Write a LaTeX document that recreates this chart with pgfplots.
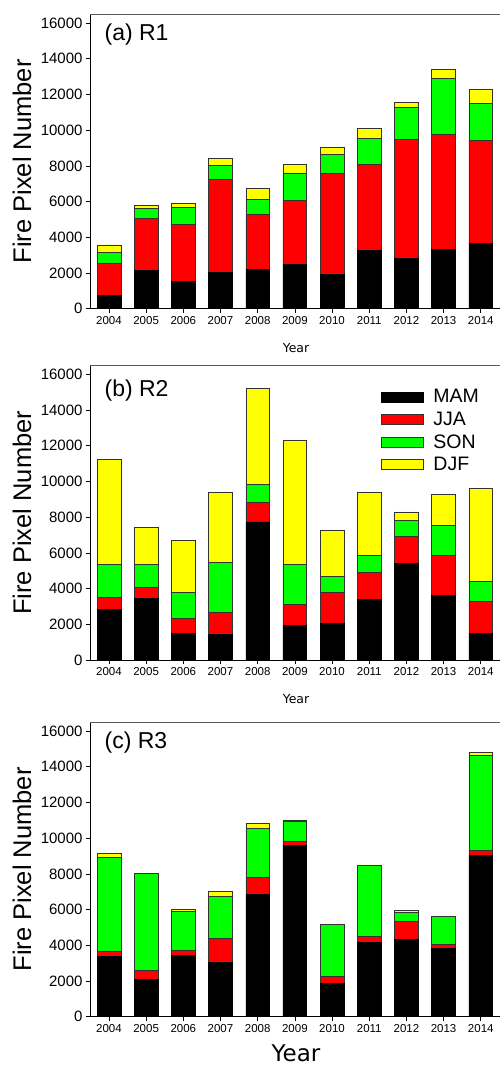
\documentclass[border=0pt]{standalone}
\usepackage{fontspec}
\setmainfont{Liberation Sans}
\newfontfamily\dejavu{DejaVu Sans}
\usepackage{pgfplots}
\usepackage{pgfplotstable}
\pgfplotsset{compat=1.18}

\pgfplotstableread{
year MAM JJA SON DJF
2004 730 1810 600 430
2005 2166 2894 560 150
2006 1550 3192 953 186
2007 2016 5228 784 393
2008 2203 3081 821 654
2009 2502 3566 1531 467
2010 1904 5658 1101 374
2011 3286 4798 1476 541
2012 2819 6684 1774 280
2013 3342 6441 3137 486
2014 3641 5788 2072 784
}\Ra

\pgfplotstableread{
year MAM JJA SON DJF
2004 2857 672 1848 5881
2005 3454 616 1307 2035
2006 1494 821 1456 2932
2007 1438 1213 2801 3921
2008 7730 1101 1008 5396
2009 1923 1195 2259 6946
2010 2072 1699 897 2614
2011 3379 1513 952 3529
2012 5396 1512 915 467
2013 3603 2241 1680 1774
2014 1494 1792 1139 5172
}\Rb

\pgfplotstableread{
year MAM JJA SON DJF
2004 3398 280 5247 224
2005 2091 523 5414 0
2006 3454 243 2203 112
2007 3025 1344 2352 299
2008 6871 934 2725 318
2009 9615 187 1139 75
2010 1848 392 2950 0
2011 4163 318 3995 30
2012 4331 990 523 131
2013 3809 224 1568 0
2014 9018 317 5303 168
}\Rc

\definecolor{barR}{RGB}{255,0,0}
\definecolor{barG}{RGB}{0,255,0}
\definecolor{barY}{RGB}{255,255,0}

\pgfplotsset{
  panel/.style={
    scale only axis, width=412pt, height=294.6pt,
    xmin=2003.49, xmax=2014.57, ymin=0, ymax=16500,
    ybar stacked, bar width=0.64,
    axis x line*=bottom, axis y line*=left,
    axis line style={black, line width=0.8pt},
    tick align=outside, major tick length=4pt,
    tick style={black, line width=0.6pt},
    xtick={2004,...,2014}, ytick={0,2000,...,16000},
    scaled y ticks=false, scaled x ticks=false,
    /pgf/number format/assume math mode=true,
    /pgf/number format/set thousands separator={},
    x tick label style={font=\fontsize{11.5}{13}\selectfont},
    y tick label style={font=\fontsize{15}{18}\selectfont},
    ylabel={Fire Pixel Number},
    every axis y label/.style={at={(axis description cs:0,0.5)}, xshift=-68pt, rotate=90, anchor=center, font=\fontsize{25.5}{30}\selectfont},
    every axis x label/.style={at={(axis description cs:0.5,0)}, yshift=-39pt, anchor=center, font=\dejavu\fontsize{12.5}{14}\selectfont},
    xlabel={Year},
    extra description/.code={\draw[black!65, line width=0.9pt] (rel axis cs:0,1) -- (rel axis cs:1,1);},
    legend image code/.code={\draw[##1, line width=0.6pt] (0pt,-5pt) rectangle (42pt,5pt);},
  },
  sMAM/.style={fill=black, draw=black, line width=0.6pt},
  sJJA/.style={fill=barR, draw=black!80, line width=0.6pt},
  sSON/.style={fill=barG, draw=black!80, line width=0.6pt},
  sDJF/.style={fill=barY, draw=black!80, line width=0.6pt},
}

\begin{document}
\begin{tikzpicture}

\begin{axis}[panel, at={(90pt,-308.7pt)}, anchor=south west]
\addplot[sMAM] table[x=year,y=MAM]{\Ra};
\addplot[sJJA] table[x=year,y=JJA]{\Ra};
\addplot[sSON] table[x=year,y=SON]{\Ra};
\addplot[sDJF] table[x=year,y=DJF]{\Ra};
\node[anchor=west, font=\fontsize{23}{27}\selectfont] at (rel axis cs:0.027,0.93) {(a) R1};
\end{axis}

\begin{axis}[panel, at={(90pt,-660pt)}, anchor=south west,
  legend style={draw=none, fill=none, inner sep=0pt, outer sep=0pt,
    at={(rel axis cs:0.706,0.918)}, anchor=north west,
    row sep=7.5pt, column sep=0pt,
    nodes={inner sep=0pt, outer sep=0pt},
    font=\fontsize{19.5}{23}\selectfont,
    /tikz/every odd column/.append style={column sep=10pt}},
  legend cell align=left]
\addplot[sMAM] table[x=year,y=MAM]{\Rb};
\addplot[sJJA] table[x=year,y=JJA]{\Rb};
\addplot[sSON] table[x=year,y=SON]{\Rb};
\addplot[sDJF] table[x=year,y=DJF]{\Rb};
\legend{MAM,JJA,SON,DJF}
\node[anchor=west, font=\fontsize{23}{27}\selectfont] at (rel axis cs:0.027,0.915) {(b) R2};
\end{axis}

\begin{axis}[panel, at={(90pt,-1016.7pt)}, anchor=south west,
  every axis x label/.style={at={(axis description cs:0.5,0)}, yshift=-37pt, anchor=center, font=\dejavu\fontsize{23}{27}\selectfont}]
\addplot[sMAM] table[x=year,y=MAM]{\Rc};
\addplot[sJJA] table[x=year,y=JJA]{\Rc};
\addplot[sSON] table[x=year,y=SON]{\Rc};
\addplot[sDJF] table[x=year,y=DJF]{\Rc};
\node[anchor=west, font=\fontsize{23}{27}\selectfont] at (rel axis cs:0.027,0.932) {(c) R3};
\end{axis}

\pgfresetboundingbox
\path[use as bounding box] (0pt,0pt) rectangle (499pt,-1066pt);
\end{tikzpicture}
\end{document}
